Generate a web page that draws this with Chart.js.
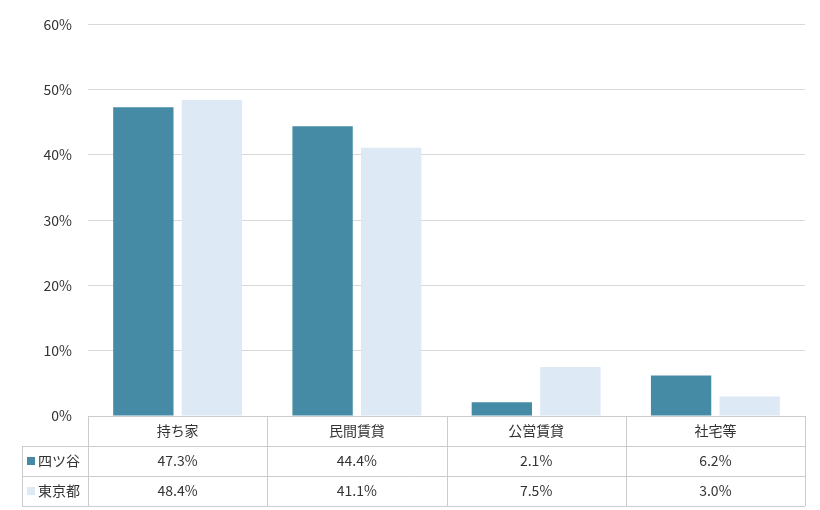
<!DOCTYPE html>
<html><head><meta charset="utf-8">
<script src="https://cdn.jsdelivr.net/npm/chart.js@4"></script>
<style>html,body{margin:0;background:#fff}#wrap{width:820px;height:510px}</style>
</head><body><div id="wrap"><canvas id="c"></canvas></div>
<script>
const categories = ["持ち家", "民間賃貸", "公営賃貸", "社宅等"];
const yotsuya = [47.3, 44.4, 2.1, 6.2];
const tokyo = [48.4, 41.1, 7.5, 3.0];
const seriesNames = ["四ツ谷", "東京都"];
const colors = ["#458BA5", "#DDE9F5"];
const FONT = "'Noto Sans CJK JP', 'Noto Sans', sans-serif";

// data table under the plot, positioned from the x scale
const tablePlugin = {
  id: "table",
  afterDraw(chart){
    const c = chart.ctx, x = chart.scales.x, a = chart.chartArea;
    const rowH = 30, top = a.bottom, left = 22;
    const step = x.getPixelForValue(1) - x.getPixelForValue(0);
    c.save();
    c.strokeStyle = "#cccccc"; c.lineWidth = 1;
    c.beginPath();
    // horizontal lines
    c.moveTo(a.left, top + 0.5); c.lineTo(a.right, top + 0.5);
    for(let r=1;r<=3;r++){ c.moveTo(left, top + r*rowH + 0.5); c.lineTo(a.right, top + r*rowH + 0.5); }
    // vertical lines
    c.moveTo(left + 0.5, top + rowH); c.lineTo(left + 0.5, top + 3*rowH);
    for(let i=0;i<=categories.length;i++){
      const px = Math.round(x.getPixelForValue(i) - step/2) + 0.5;
      c.moveTo(px, top); c.lineTo(px, top + 3*rowH);
    }
    c.stroke();
    c.font = "14px " + FONT; c.fillStyle = "#333"; c.textBaseline = "middle"; c.textAlign = "center";
    categories.forEach((cat,i)=>{
      const px = x.getPixelForValue(i);
      c.fillText(cat, px, top + rowH/2);
      c.fillText(yotsuya[i].toFixed(1) + "%", px, top + rowH*1.5);
      c.fillText(tokyo[i].toFixed(1) + "%", px, top + rowH*2.5);
    });
    c.textAlign = "left";
    seriesNames.forEach((n,r)=>{
      const cy = top + rowH*(1.5 + r);
      c.fillStyle = colors[r]; c.fillRect(27, cy - 4, 8, 8);
      c.fillStyle = "#333"; c.fillText(n, 38, cy);
    });
    c.restore();
  }
};

new Chart(document.getElementById("c"), {
  type: "bar",
  data: {
    labels: categories,
    datasets: [
      {label: seriesNames[0], data: yotsuya, backgroundColor: colors[0]},
      {label: seriesNames[1], data: tokyo, backgroundColor: colors[1]}
    ]
  },
  options: {
    responsive: true, maintainAspectRatio: false, animation: false,
    layout: {padding: {top: 7, right: 15, bottom: 94, left: 0}},
    datasets: {bar: {categoryPercentage: 0.765, barPercentage: 0.88}},
    scales: {
      x: {display: false},
      y: {
        min: 0, max: 60,
        afterFit: s => { s.width = 88; },
        border: {display: false},
        grid: {color: "#d9d9d9", drawTicks: false},
        ticks: {stepSize: 10, padding: 16, color: "#333", font: {family: FONT, size: 14}, callback: v => v + "%"}
      }
    },
    plugins: {legend: {display: false}, tooltip: {enabled: false}}
  },
  plugins: [tablePlugin]
});
</script></body></html>
